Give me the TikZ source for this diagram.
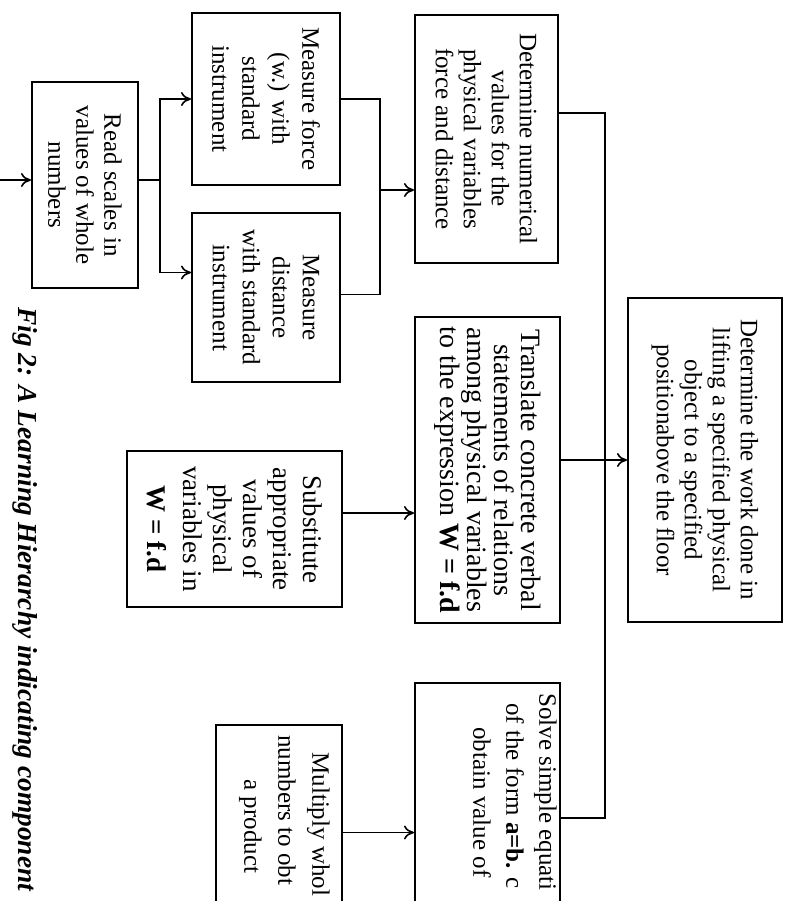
\documentclass[tikz,border=0pt]{standalone}
\usepackage{fontspec}
\setmainfont{Liberation Serif}
\usetikzlibrary{arrows.meta,fit}

\tikzset{
  box/.style={draw, line width=1pt, inner sep=0pt},
  txt/.style={rotate=-90, align=center, inner sep=0pt, font=\fontsize{12.5}{14}\selectfont},
  link/.style={line width=0.8pt},
  arr/.style={link, -{To[length=5pt,width=7pt]}},
}

\begin{document}
\begin{tikzpicture}[x=0.5pt, y=-0.5pt]
  \useasboundingbox (0,0) rectangle (791,901);
  \clip (0,0) rectangle (791,901);

  %%% boxes
  \node[box, fit={(32,82) (138,288)}] (read) {};
  \node[box, fit={(192,13) (340,185)}] (force) {};
  \node[box, fit={(192,213) (340,382)}] (dist) {};
  \node[box, fit={(415,15) (558,263)}] (numv) {};
  \node[box, fit={(628,298) (782,622)}] (work) {};
  \node[box, fit={(415,317) (560,623)}] (trans) {};
  \node[box, fit={(415,683) (560,1000)}] (solve) {};
  \node[box, fit={(127,451) (342,607)}] (subst) {};
  \node[box, fit={(216,725) (342,1000)}] (mult) {};

  %%% texts
  \node[txt] (readtxt) at (read) {Read scales in\\values of whole\\numbers};
  \node[txt, font=\fontsize{12.5}{15}\selectfont] (forcetxt) at (force) {Measure force\\(w.) with\\standard\\instrument};
  \node[txt, font=\fontsize{12.5}{15}\selectfont] (disttxt) at (dist) {Measure\\distance\\with standard\\instrument};
  \node[txt] (numvtxt) at (numv) {Determine numerical\\values for the\\physical variables\\force and distance};
  \node[txt] (worktxt) at (work) {Determine the work done in\\lifting a specified physical\\object to a specified\\positionabove the floor};
  \node[txt, font=\fontsize{14}{13.5}\selectfont] (transtxt) at (trans) {Translate concrete verbal\\statements of relations\\among physical variables\\to the expression \textbf{W = f.d}};
  \node[txt, font=\fontsize{13.5}{15}\selectfont] (substtxt) at (subst) {Substitute\\appropriate\\values of\\physical\\variables in\\[3pt]\textbf{W = f.d}};
  \node[txt, align=left, anchor=north west, font=\fontsize{12.5}{16.5}\selectfont] (solvetxt) at (557,693)
    {Solve simple equati\\\hspace*{5pt}of the form \textbf{a=b.} c\\\hspace*{17pt}obtain value of};
  \node[txt, align=left, anchor=north west, font=\fontsize{12.5}{17}\selectfont] (multtxt) at (330,735)
    {\hspace*{8.5pt}Multiply whol\\numbers to obt\\\hspace*{22pt}a product};

  %%% caption
  \node[txt, anchor=north west, font=\fontsize{13.7}{16}\bfseries\itshape\selectfont] (cap) at (38,307)
    {Fig 2: A Learning Hierarchy indicating component};

  %%% connectors
  \coordinate (in) at (0,180);
  \coordinate (rsplit) at (160,180);
  \coordinate (mjoin) at (380,190);
  \coordinate (mainbus) at (605,818);
  \coordinate (sl) at ([yshift=8pt]subst.east);
  \coordinate (ml) at ([yshift=15pt]mult.east);

  \draw[arr] (in) -- (read.west |- in);
  \draw[link] (read.east |- rsplit) -- (rsplit);
  \draw[arr] (rsplit) |- (force.west);
  \draw[arr] (rsplit) |- ([yshift=12.5pt]dist.west);

  \draw[link] (force.east) -| (mjoin);
  \draw[link] ([yshift=1.5pt]dist.east) -| (mjoin);
  \draw[arr] (mjoin) -- (numv.west |- mjoin);

  \draw[link] ([yshift=13pt]numv.east) -| (mainbus) -- (solve.east |- mainbus);
  \draw[arr] (trans.east |- work.west) -- (work.west);

  \draw[arr] (sl) -- (sl -| trans.west);
  \draw[arr] (ml) -- (ml -| solve.west);
\end{tikzpicture}
\end{document}
